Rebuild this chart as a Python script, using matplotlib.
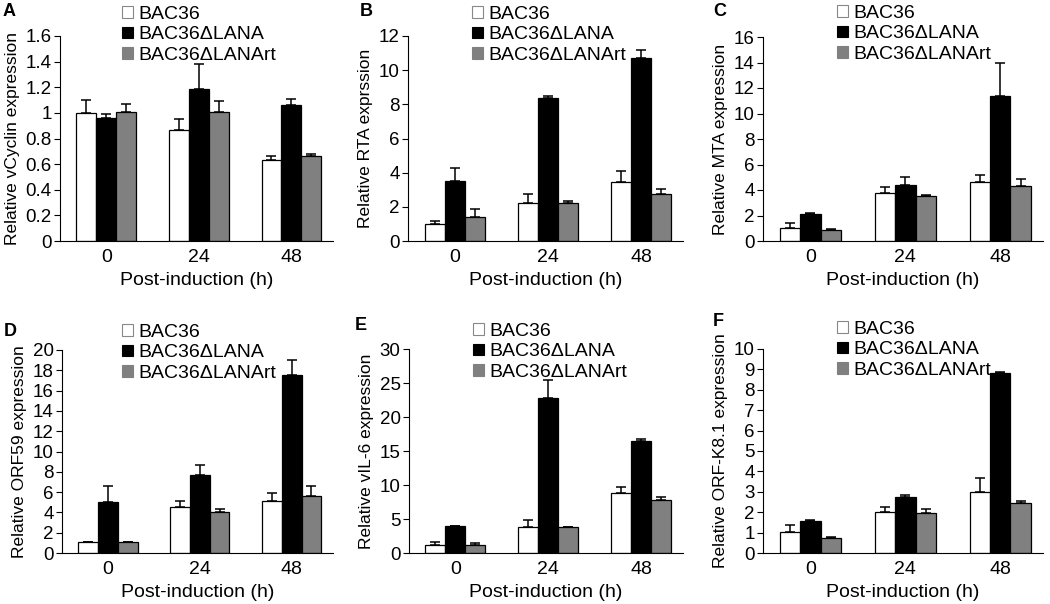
import matplotlib.pyplot as plt
import numpy as np
from matplotlib.patches import Patch

plt.rcParams['font.family'] = ['Liberation Sans', 'DejaVu Sans']

times = ["0", "24", "48"]
groups = ["BAC36", "BAC36\u0394LANA", "BAC36\u0394LANArt"]
colors = ["white", "black", "#808080"]

# mean values per group (rows: BAC36, dLANA, dLANArt), columns: 0, 24, 48 h
vcyclin = [[1.00, 0.87, 0.63], [0.96, 1.19, 1.06], [1.01, 1.01, 0.66]]
vcyclin_err = [[0.10, 0.08, 0.03], [0.03, 0.19, 0.05], [0.06, 0.08, 0.02]]

rta = [[1.01, 2.22, 3.45], [3.53, 8.39, 10.71], [1.39, 2.22, 2.77]]
rta_err = [[0.16, 0.55, 0.65], [0.74, 0.08, 0.45], [0.50, 0.10, 0.25]]

mta = [[0.99, 3.79, 4.63], [2.14, 4.37, 11.37], [0.84, 3.50, 4.31]]
mta_err = [[0.40, 0.47, 0.55], [0.08, 0.65, 2.56], [0.13, 0.08, 0.55]]

orf59 = [[1.05, 4.54, 5.13], [5.03, 7.73, 17.57], [1.05, 4.08, 5.66]]
orf59_err = [[0.0, 0.62, 0.79], [1.55, 0.92, 1.44], [0.0, 0.30, 0.92]]

vil6 = [[1.12, 3.85, 8.88], [3.90, 22.78, 16.44], [1.12, 3.76, 7.76]]
vil6_err = [[0.49, 0.98, 0.88], [0.0, 2.59, 0.29], [0.29, 0.09, 0.53]]

k81 = [[1.02, 2.02, 2.98], [1.58, 2.73, 8.80], [0.73, 1.95, 2.46]]
k81_err = [[0.36, 0.22, 0.68], [0.03, 0.12, 0.05], [0.05, 0.20, 0.09]]

panels = [
    ("A", "Relative vCyclin expression", vcyclin, vcyclin_err, 1.6, 0.2),
    ("B", "Relative RTA exprssion", rta, rta_err, 12, 2),
    ("C", "Relative MTA expression", mta, mta_err, 16, 2),
    ("D", "Relative ORF59 expression", orf59, orf59_err, 20, 2),
    ("E", "Relative vIL-6 expression", vil6, vil6_err, 30, 5),
    ("F", "Relative ORF-K8.1 expression", k81, k81_err, 10, 1),
]

# axes rectangles in pixels: left, right, top, bottom
rects = [
    (60, 333, 36, 241), (408, 683, 36, 241), (763, 1043, 37, 241),
    (62, 333, 350, 553), (409, 683, 349, 553), (763, 1043, 349, 553),
]
letter_pos = [(3, 12), (360, 12), (713, 12), (4, 331), (355, 326), (713, 322)]
legend_pos = [(122, 6), (472, 6), (837, 5), (122, 324), (473, 323), (837, 321)]

W, H = 1050, 604
fig = plt.figure(figsize=(W / 100, H / 100), dpi=100)

x = np.arange(len(times))
bw = 0.215
fmt = lambda v, p: ("%g" % v)

for (letter, ylabel, vals, errs, ymax, step), (l, r, t, b), lp, gp in zip(
        panels, rects, letter_pos, legend_pos):
    ax = fig.add_axes([l / W, 1 - b / H, (r - l) / W, (b - t) / H])
    for i in range(3):
        err = np.array(errs[i])
        ax.bar(x + (i - 1) * bw, vals[i], bw, color=colors[i], edgecolor="black",
               linewidth=0.9, zorder=2)
        ax.errorbar(x + (i - 1) * bw, vals[i], yerr=[np.zeros(3), err], fmt="none",
                    ecolor="black", elinewidth=1.1, capsize=3.8, capthick=1.1, zorder=1)
    ax.set_xlim(-0.5, 2.45)
    ax.set_ylim(0, ymax)
    ax.set_yticks(np.arange(0, ymax + step / 2, step))
    ax.yaxis.set_major_formatter(plt.FuncFormatter(fmt))
    ax.set_xticks(x)
    ax.set_xticklabels(times)
    ax.tick_params(axis="x", length=0, pad=6, labelsize=14)
    ax.tick_params(axis="y", length=4, width=0.8, pad=2, labelsize=13.5)
    for s in ["top", "right"]:
        ax.spines[s].set_visible(False)
    for s in ["left", "bottom"]:
        ax.spines[s].set_linewidth(0.8)
    ax.set_ylabel(ylabel, fontsize=12.5, labelpad=4)
    ax.set_xlabel("Post-induction (h)", fontsize=14, labelpad=4)
    fig.text(lp[0] / W, 1 - lp[1] / H, letter, fontsize=13, fontweight="bold",
             va="center", ha="left")
    handles = [Patch(facecolor=c, edgecolor=("#888888" if c == "white" else c), linewidth=0.8)
               for c in colors]
    fig.legend(handles, groups, loc="upper left", bbox_to_anchor=(gp[0] / W, 1 - gp[1] / H),
               frameon=False, fontsize=14, handlelength=0.55, handleheight=0.55,
               handletextpad=0.3, labelspacing=0.17, borderpad=0, borderaxespad=0)

fig.savefig("out.png", dpi=100)
